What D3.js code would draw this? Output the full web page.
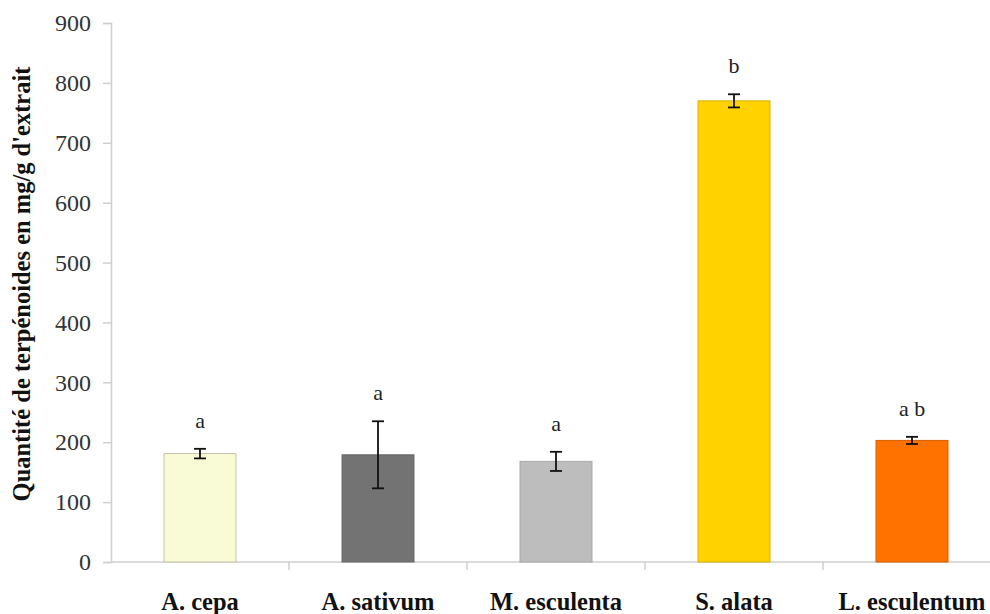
<!DOCTYPE html>
<html><head><meta charset="utf-8">
<script src="https://cdn.jsdelivr.net/npm/d3@7"></script>
<style>body{margin:0;background:#fff}svg{display:block}
svg text{font-family:"Liberation Serif","Times New Roman",Times,"DejaVu Serif",serif !important;}</style>
</head><body>
<script>
const categories = ["A. cepa", "A. sativum", "M. esculenta", "S. alata", "L. esculentum"];
const values = [181, 179, 168, 770, 203];
const errors = [8, 56, 16, 11, 6];
const letters = ["a", "a", "a", "b", "a b"];
const colors = ["#f9fbd6", "#737373", "#bdbdbd", "#ffd200", "#ff7200"];
const strokes = ["#c4c4a6", "#6a6a6a", "#a8a8a8", "#d9b200", "#d66000"];
const yTicks = [0, 100, 200, 300, 400, 500, 600, 700, 800, 900];
const yTitle = "Quantité de terpénoides en mg/g d'extrait";

const W = 990, H = 614;
const svg = d3.select("body").append("svg").attr("width", W).attr("height", H);
const mLeft = 111, mTop = 23, mBottom = 562, bandW = 178;
const x = d3.scaleBand().domain(categories).range([mLeft, mLeft + bandW * categories.length]).paddingInner(0).paddingOuter(0);
const y = d3.scaleLinear().domain([0, 900]).range([mBottom, mTop]);
const barW = 72;

// y axis
const ya = svg.append("g").attr("transform", `translate(${mLeft},0)`)
  .call(d3.axisLeft(y).tickValues(yTicks).tickSize(8).tickPadding(12));
ya.attr("font-family", null);
ya.select(".domain").attr("stroke", "#cfcfcf").attr("stroke-width", 1.5);
ya.selectAll(".tick line").attr("stroke", "#cfcfcf").attr("stroke-width", 1.5);
ya.selectAll(".tick text").attr("font-size", 24).attr("fill", "#333");

// x axis
const xa = svg.append("g").attr("transform", `translate(0,${mBottom})`);
xa.append("line").attr("x1", mLeft).attr("x2", mLeft + bandW * categories.length)
  .attr("stroke", "#cfcfcf").attr("stroke-width", 1.5);
xa.selectAll(".sep").data(categories.slice(1)).join("line")
  .attr("x1", d => x(d)).attr("x2", d => x(d)).attr("y1", 0).attr("y2", 8)
  .attr("stroke", "#cfcfcf").attr("stroke-width", 1.5);
xa.selectAll(".lab").data(categories).join("text")
  .attr("x", d => x(d) + x.bandwidth() / 2).attr("y", 48)
  .attr("text-anchor", "middle").attr("font-weight", "bold")
  .attr("font-size", 24.5).attr("fill", "#111").text(d => d);

// bars
const data = categories.map((c, i) => ({c, v: values[i], e: errors[i], l: letters[i], f: colors[i], s: strokes[i]}));
svg.selectAll(".bar").data(data).join("rect")
  .attr("x", d => x(d.c) + x.bandwidth() / 2 - barW / 2)
  .attr("y", d => y(d.v)).attr("width", barW).attr("height", d => y(0) - y(d.v))
  .attr("fill", d => d.f).attr("stroke", d => d.s).attr("stroke-width", 1);

// error bars
const eb = svg.selectAll(".err").data(data).join("g")
  .attr("transform", d => `translate(${x(d.c) + x.bandwidth() / 2},0)`);
eb.append("line").attr("y1", d => y(d.v + d.e)).attr("y2", d => y(d.v - d.e)).attr("stroke", "#111").attr("stroke-width", 1.8);
eb.append("line").attr("x1", -6).attr("x2", 6).attr("y1", d => y(d.v + d.e)).attr("y2", d => y(d.v + d.e)).attr("stroke", "#111").attr("stroke-width", 1.8);
eb.append("line").attr("x1", -6).attr("x2", 6).attr("y1", d => y(d.v - d.e)).attr("y2", d => y(d.v - d.e)).attr("stroke", "#111").attr("stroke-width", 1.8);
eb.append("text").attr("y", d => y(d.v + d.e) - 21).attr("text-anchor", "middle")
  .attr("font-size", 22).attr("fill", "#222").text(d => d.l);

// y title
svg.append("text").attr("transform", `translate(30,${(63 + 505) / 2}) rotate(-90)`)
  .attr("text-anchor", "middle").attr("font-weight", "bold")
  .attr("font-size", 24.5).attr("fill", "#111").text(yTitle);
</script>
</body></html>
